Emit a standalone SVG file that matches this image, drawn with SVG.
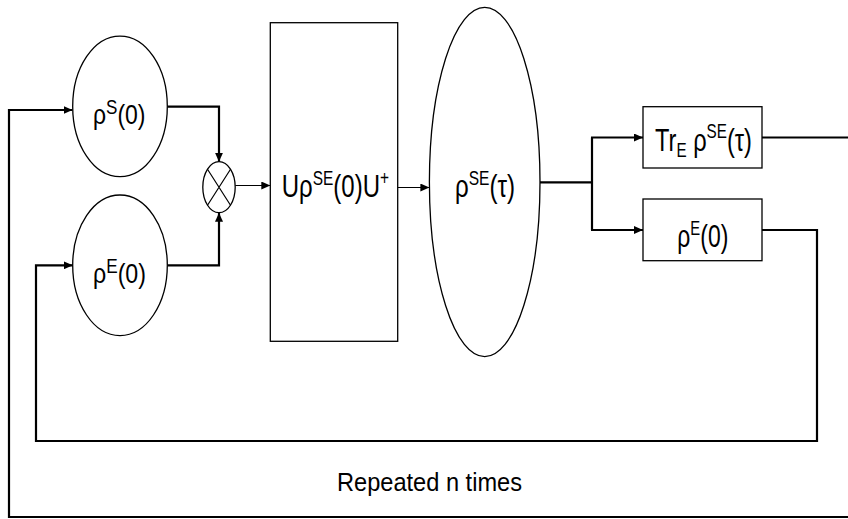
<svg xmlns="http://www.w3.org/2000/svg" width="848" height="519" viewBox="0 0 848 519">
<style>
.node{fill:#fff;stroke:#000;stroke-width:1.3}
.con{fill:none;stroke:#000;stroke-width:2.2}
.thin{fill:none;stroke:#000;stroke-width:1.2}
text{font-family:"Liberation Sans",Arial,sans-serif;fill:#000}
.t{font-size:31px}
.c{font-size:27px}
.s{font-size:20px}
</style>
<defs>
<marker id="ah" markerUnits="userSpaceOnUse" markerWidth="10" markerHeight="8" refX="9" refY="4" orient="auto">
<path d="M0,0 L9,4 L0,8 z" fill="#000"/>
</marker>
</defs>
<rect width="848" height="519" fill="#fff"/>
<g id="connectors">
<path class="con" d="M762,137.5 H851 V517 H9 V110 H72.5" marker-end="url(#ah)"/>
<path class="con" d="M762,230 H817 V441 H36 V265.3 H72.8" marker-end="url(#ah)"/>
<path class="con" d="M167.3,106.7 H219 V161.7" marker-end="url(#ah)"/>
<path class="con" d="M167.3,265.3 H219 V212.7" marker-end="url(#ah)"/>
<path class="thin" d="M235.2,185.5 H270.3" marker-end="url(#ah)"/>
<path class="thin" d="M397.7,187.5 H429.4" marker-end="url(#ah)"/>
<path class="con" d="M540,182.3 H592"/>
<path class="con" d="M592,137.5 V230"/>
<path class="con" d="M591,137.5 H643" marker-end="url(#ah)"/>
<path class="con" d="M591,230 H643" marker-end="url(#ah)"/>
</g>
<g id="rhoS">
<ellipse class="node" cx="120" cy="106.4" rx="47.3" ry="70.3"/>
<text class="c" x="93" y="123.5" textLength="52.5" lengthAdjust="spacingAndGlyphs">ρ<tspan class="s" dy="-10">S</tspan><tspan dy="10">(0)</tspan></text>
</g>
<g id="rhoE">
<ellipse class="node" cx="120" cy="265.3" rx="47.3" ry="70.3"/>
<text class="c" x="93" y="282.5" textLength="53" lengthAdjust="spacingAndGlyphs">ρ<tspan class="s" dy="-10">E</tspan><tspan dy="10">(0)</tspan></text>
</g>
<g id="otimes">
<ellipse class="node" cx="219" cy="187.2" rx="16.2" ry="25.5"/>
<path d="M207.5,169.2 L230.5,205.2 M230.5,169.2 L207.5,205.2" stroke="#000" stroke-width="1.2" fill="none"/>
</g>
<g id="unitary">
<rect class="node" x="270.3" y="22.7" width="127.4" height="318.6"/>
<text class="t" x="281.7" y="197" textLength="107.3" lengthAdjust="spacingAndGlyphs">Uρ<tspan class="s" dy="-12">SE</tspan><tspan dy="12">(0)U</tspan><tspan class="s" dy="-12">+</tspan></text>
</g>
<g id="rhoSEtau">
<ellipse class="node" cx="484.7" cy="182" rx="55.3" ry="174.7"/>
<text class="t" x="455" y="197" textLength="60" lengthAdjust="spacingAndGlyphs">ρ<tspan class="s" dy="-12">SE</tspan><tspan dy="12">(τ)</tspan></text>
</g>
<g id="trace">
<rect class="node" x="643" y="106.7" width="119" height="61.3"/>
<text class="t" x="655" y="151" textLength="97" lengthAdjust="spacingAndGlyphs">Tr<tspan class="s" dy="6">E</tspan><tspan dy="-6"> ρ</tspan><tspan class="s" dy="-13">SE</tspan><tspan dy="13">(τ)</tspan></text>
</g>
<g id="rhoE0box">
<rect class="node" x="643" y="199" width="119" height="61.7"/>
<text class="t" x="677.3" y="246.5" textLength="51" lengthAdjust="spacingAndGlyphs">ρ<tspan class="s" dy="-12">E</tspan><tspan dy="12">(0)</tspan></text>
</g>
<g id="label">
<text x="337" y="491" font-size="25" textLength="185" lengthAdjust="spacingAndGlyphs">Repeated n times</text>
</g>
</svg>
